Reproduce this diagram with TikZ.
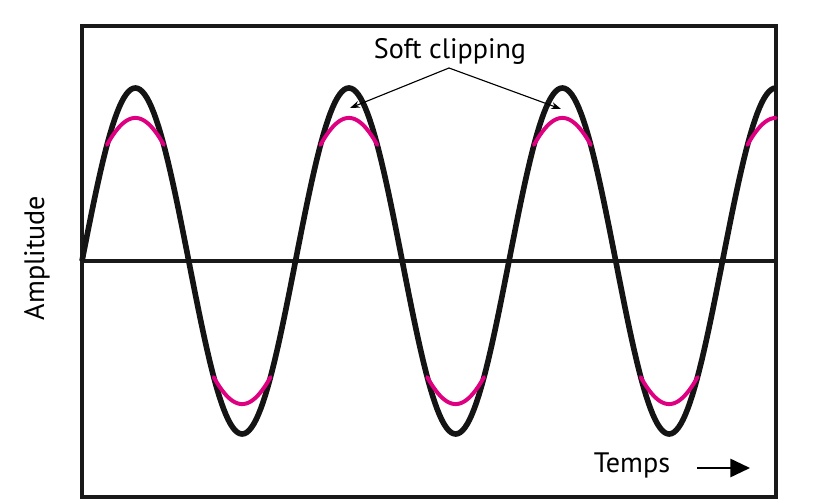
\documentclass[tikz,border=0pt]{standalone}
\usepackage{fontspec}
\setmainfont{PT Sans}
\usetikzlibrary{arrows.meta,positioning}

\definecolor{clipmag}{RGB}{222,0,128}

\begin{document}
\begin{tikzpicture}[
        x=0.025cm, y=-0.025cm,
        font=\fontsize{20}{24}\selectfont,
        frame/.style={draw=black!90, line width=2.5pt},
        wave/.style={draw=black!92, line width=4pt, line join=round},
        soft/.style={draw=clipmag, line width=2.8pt, line cap=round},
        pointer/.style={draw, line width=0.8pt, -{Stealth[length=7pt, width=5pt]}},
        timearrow/.style={draw, line width=1.5pt, -{Triangle[length=14pt, width=13pt]}}
    ]

\useasboundingbox (0,0) rectangle (816,503);

% --- Frame and zero line ---
        \draw[frame] (82,26) rectangle (776,497);
        \draw[frame] (82,261) -- (776,261);

% --- Clean sine ---
        \draw[wave] plot[domain=82:776, samples=300] (\x, {261-173*sin((\x-82)/213.5*360)});

% --- Soft clipped tops and bottoms ---
        \foreach \k in {0,1,2} {
            \draw[soft] plot[variable=\ph, domain={42+360*\k}:{138+360*\k}, samples=40]
                ({82+\ph/360*213.5}, {261-173*(0.672+0.4726*(sin(\ph)-0.672))});
            \draw[soft] plot[variable=\ph, domain={222+360*\k}:{318+360*\k}, samples=40]
                ({82+\ph/360*213.5}, {261+173*(0.672+0.4726*(-sin(\ph)-0.672))});
        }
        \draw[soft] plot[variable=\ph, domain=1122:1170, samples=20]
            ({82+\ph/360*213.5}, {261-173*(0.672+0.4726*(sin(\ph)-0.672))});

% --- Labels ---
        \node (clip) at (450,51) {Soft clipping};
        \coordinate (tipA) at (350,108);
        \coordinate (tipB) at (561,109);
        \draw[pointer] (449,68) -- (tipA);
        \draw[pointer] (449,68) -- (tipB);

        \node (temps) at (632,465) {Temps};
        \coordinate (tA) at (697,468);
        \coordinate (tB) at (750,468);
        \draw[timearrow] (tA) -- (tB);

        \node[rotate=90] (ampl) at (37,258) {Amplitude};

    \end{tikzpicture}
\end{document}
